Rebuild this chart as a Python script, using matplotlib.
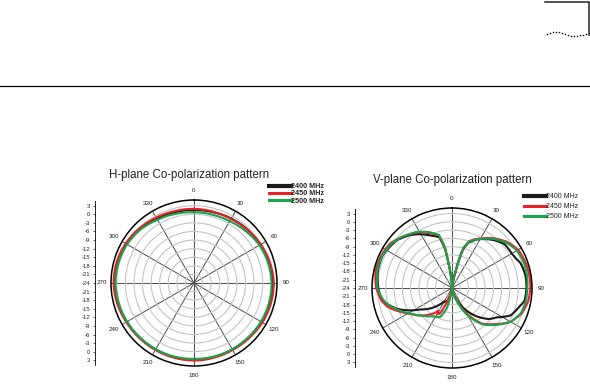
import numpy as np
import matplotlib
matplotlib.use("Agg")
import matplotlib.pyplot as plt

plt.rcParams['font.family'] = ['Liberation Sans', 'DejaVu Sans']

#------------------------------------data--------------------------------------
series_names = ["2400 MHz", "2450 MHz", "2500 MHz"]
series_colors = ["#1a1a1a", "#e8202a", "#1aa34a"]
angle_labels = ["0", "30", "60", "90", "120", "150", "180", "210", "240",
                "270", "300", "330"]

# H-plane, dB, every 15 deg starting at 0
h_angles = list(range(0, 360, 15))
h_2400 = [1.5, 1.6, 2.0, 2.4, 2.7, 3.2, 3.6, 3.5, 3.3, 3.0, 2.8, 2.8,
          2.9, 2.8, 2.8, 2.9, 3.1, 3.5, 3.8, 3.7, 3.4, 2.8, 2.0, 1.6]
h_2450 = [1.9, 1.8, 1.8, 2.3, 3.0, 3.5, 3.9, 3.8, 3.6, 3.2, 3.0, 3.0,
          3.1, 3.0, 3.0, 3.1, 3.3, 3.8, 4.1, 4.0, 3.6, 3.0, 2.4, 2.0]
h_2500 = [0.7, 0.7, 0.9, 1.6, 2.4, 2.8, 3.1, 3.1, 3.0, 2.8, 2.7, 2.6,
          2.5, 2.6, 2.7, 2.8, 3.0, 3.2, 3.4, 3.3, 3.0, 2.4, 1.5, 1.0]

# V-plane, dB, (angle, value)
v_2400_ang = [0, 5, 10, 12, 14, 16, 20, 28, 40, 50, 60, 65, 70, 80, 90, 100,
              106, 115, 123, 130, 139, 150, 160, 170, 180, 190, 200, 211,
              220, 236, 249, 260, 270, 283, 295, 311, 322, 330, 338, 346,
              350, 352, 355, 360]
v_2400_db = [-24, -23, -21, -18.5, -13.5, -9.5, -6.5, -4, -1.2, 0.8, 1.0,
             1.5, 2.4, 3.0, 3.0, 2.7, 1.2, -0.5, -4.5, -6.5, -10.4, -15.5,
             -20, -23, -24, -22.5, -19, -18.2, -15.5, -10.1, -2.8, 1.8, 2.7,
             3.6, 3.8, 2.4, 0.4, -1.5, -3.5, -5, -10, -15, -20, -24]
v_2450_ang = [0, 5, 10, 12, 14, 16, 20, 25, 30, 40, 50, 60, 70, 80, 90, 100,
              110, 120, 130, 140, 150, 160, 170, 180, 190, 198, 202, 205,
              208, 211, 214, 220, 230, 238, 245, 254, 260, 266, 270, 283,
              295, 306, 315, 322, 328, 338, 346, 350, 352, 355, 360]
v_2450_db = [-24, -23, -21, -18, -13, -9, -6, -4.5, -3.3, -0.5, 2, 3.7,
             4.2, 4.4, 4.4, 4.0, 2.9, 0.5, -3.6, -7.2, -13.3, -19.5, -23,
             -24, -23, -20, -17, -14, -13.2, -14.5, -13.2, -11.5, -8.5, -6.3,
             -3.5, 0.4, 2.0, 2.9, 3.5, 4.4, 4.2, 3.6, 2.0, 0.8, -0.2, -2.6,
             -4.3, -9, -15, -20, -24]
v_2500_ang = [0, 5, 10, 12, 14, 16, 20, 25, 30, 40, 50, 60, 70, 80, 90, 100,
              110, 120, 130, 140, 150, 160, 170, 180, 188, 192, 195, 202,
              215, 229, 238, 245, 254, 260, 266, 270, 283, 295, 306, 315,
              322, 328, 338, 346, 350, 352, 355, 360]
v_2500_db = [-24, -23, -20.5, -17, -12.5, -8.8, -6.2, -4.8, -3.5, -0.8, 1.6,
             3.2, 3.6, 3.6, 3.3, 3.2, 2.6, 0.5, -3.2, -6.8, -12.5, -19, -23,
             -24, -22, -19, -16.2, -12.7, -11.5, -8.9, -6.5, -4, -0.5, 1.2,
             2.4, 3.0, 3.8, 3.8, 3.2, 2.0, 0.8, 0, -2.2, -4.2, -9, -15, -20,
             -24]

r_min, r_max = -24, 5

#----------------------------------helpers-------------------------------------
W, H = 590, 384


def box(x0, y0, x1, y1):
    # pixel box (top-left origin) -> figure fraction
    return [x0 / W, 1 - y1 / H, (x1 - x0) / W, (y1 - y0) / H]


def polar_axes(fig, cx, cy, rad):
    ax = fig.add_axes(box(cx - rad, cy - rad, cx + rad, cy + rad),
                      projection='polar')
    ax.set_theta_zero_location('N')
    ax.set_theta_direction(-1)
    ax.set_ylim(r_min, r_max)
    ax.set_yticks(np.arange(-21, 4, 3))
    ax.set_yticklabels([])
    ax.set_thetagrids(np.arange(0, 360, 30), angle_labels)
    ax.xaxis.grid(True, color='#4d4d4d', lw=0.7)
    ax.yaxis.grid(True, color='#c4c4c4', lw=0.8)
    ax.spines['polar'].set_linewidth(1.1)
    ax.spines['polar'].set_color('black')
    ax.tick_params(axis='x', labelsize=4.5, pad=-4, colors='#222222')
    ax.set_facecolor('none')
    return ax


def smooth(line):
    # let the polar transform draw arcs between samples
    line.get_path()._interpolation_steps = 12


def db_scale(fig, x, cy, rad):
    span = r_max - r_min
    sx = fig.add_axes(box(x, cy - rad, x + 1, cy + rad))
    sx.set_ylim(-span, span)
    for s in ['top', 'right', 'bottom']:
        sx.spines[s].set_visible(False)
    sx.spines['left'].set_bounds(-28.5, 28.5)
    sx.spines['left'].set_linewidth(0.6)
    sx.set_xticks([])
    offs = np.arange(-27, 28, 3)
    sx.set_yticks(offs)
    sx.set_yticklabels([str(int(r_min + abs(o))) for o in offs])
    sx.tick_params(axis='y', labelsize=4.2, length=1.8, width=0.5, pad=1.5,
                   colors='#222222')
    sx.set_facecolor('none')
    return sx


fig = plt.figure(figsize=(W / 100, H / 100), dpi=100)

# page furniture
bg = fig.add_axes([0, 0, 1, 1])
bg.set_xlim(0, W)
bg.set_ylim(H, 0)
bg.axis('off')
bg.plot([0, W], [85.7, 85.7], color='black', lw=0.9)
bg.plot([545, 588.5, 588.5], [1.5, 1.5, 35], color='#222222', lw=1.1)
wave_x = [547, 550, 553, 556, 559, 562, 565, 568, 571, 574, 577, 580, 583, 586]
wave_y = [34, 33, 32.3, 32, 32.3, 33, 34, 35, 35.7, 36, 35.8, 35.3, 35, 34.3]
bg.scatter(wave_x, wave_y, s=1.2, color='black', lw=0)

#-------------------------------H-plane----------------------------------------
axh = polar_axes(fig, 194, 283, 83)
h_th = np.deg2rad(h_angles + [360])
for vals, c, n in zip([h_2400, h_2450, h_2500], series_colors, series_names):
    ln, = axh.plot(h_th, vals + [vals[0]], color=c, lw=1.5, label=n)
    smooth(ln)
db_scale(fig, 95, 283, 83)
fig.text(189 / W, 1 - 175 / H, "H-plane Co-polarization pattern",
         ha='center', va='center', fontsize=8.3, color='#222222')
leg = axh.legend(loc='upper left', bbox_to_anchor=(269 / W, 1 - 183 / H),
                 bbox_transform=fig.transFigure, frameon=False, fontsize=5.2,
                 handlelength=3.0, handletextpad=0.0, labelspacing=0.05,
                 borderpad=0, borderaxespad=0)
for t in leg.get_texts():
    t.set_color('#222222')
    t.set_fontweight('bold')
for ln, w in zip(leg.get_lines(), [3.0, 2.2, 2.2]):
    ln.set_linewidth(w)

#-------------------------------V-plane----------------------------------------
axv = polar_axes(fig, 452, 288, 80)
for a, vals, c, n in zip([v_2400_ang, v_2450_ang, v_2500_ang],
                         [v_2400_db, v_2450_db, v_2500_db],
                         series_colors, series_names):
    ln, = axv.plot(np.deg2rad(a), vals, color=c, lw=1.5, label=n)
    smooth(ln)
db_scale(fig, 355, 288, 80)
fig.text(452 / W, 1 - 180 / H, "V-plane Co-polarization pattern",
         ha='center', va='center', fontsize=8.3, color='#222222')
leg = axv.legend(loc='upper left', bbox_to_anchor=(524 / W, 1 - 193 / H),
                 bbox_transform=fig.transFigure, frameon=False, fontsize=5.0,
                 handlelength=3.2, handletextpad=0.0, labelspacing=0.45,
                 borderpad=0, borderaxespad=0)
for t in leg.get_texts():
    t.set_color('#222222')
for ln, w in zip(leg.get_lines(), [3.0, 2.2, 2.2]):
    ln.set_linewidth(w)

fig.savefig("out.png", dpi=100)
